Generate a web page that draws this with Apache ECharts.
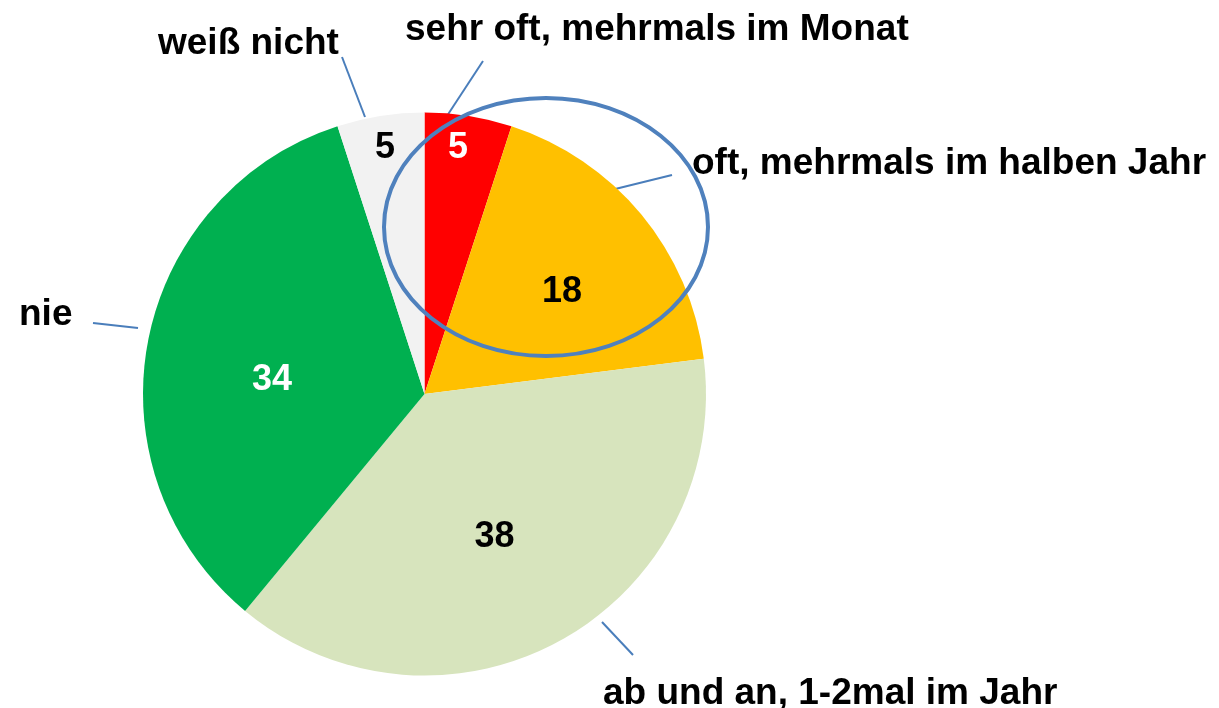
<!DOCTYPE html>
<html><head><meta charset="utf-8">
<script src="https://cdn.jsdelivr.net/npm/echarts@6/dist/echarts.min.js"></script>
<style>html,body{margin:0;padding:0;background:#fff}#c{width:1219px;height:708px}</style>
</head><body><div id="c"></div>
<script>
// ---- data ----
const categories = ['sehr oft, mehrmals im Monat', 'oft, mehrmals im halben Jahr', 'ab und an, 1-2mal im Jahr', 'nie', 'weiß nicht'];
const values = [5, 18, 38, 34, 5];

// ---- styles / layout ----
const colors = ['#ff0000', '#ffc000', '#d7e4bd', '#00b050', '#f2f2f2'];
const valueLabelColors = ['#ffffff', '#000000', '#000000', '#ffffff', '#000000'];
const nameLabelPos = [[405, 29.5], [692, 163.5], [603, 694], [19, 314.5], [158, 43.5]];
const leaderLines = [[[483, 61], [443, 122]], [[672, 175], [603, 192]], [[633, 655], [602, 622]], [[93, 323], [138, 328]], [[342, 57], [365, 117]]];
const valueLabelPos = [[458, 148], [562, 292], [494.5, 537], [272, 380.5], [385, 148]];

const font = '"Liberation Sans", Arial, sans-serif';
const center = [424.5, 394];
const radius = 281.5;

const chart = echarts.init(document.getElementById('c'), null, {renderer: 'canvas'});
const sliceData = categories.map((n, i) => ({name: n, value: values[i], itemStyle: {color: colors[i]}}));
const valueData = categories.map((n, i) => ({name: n, value: values[i], label: {color: valueLabelColors[i]}}));

chart.setOption({
  animation: false,
  series: [
    {
      type: 'pie', center: center, radius: radius, startAngle: 90, clockwise: true,
      avoidLabelOverlap: false, silent: true,
      itemStyle: {borderWidth: 0},
      data: sliceData,
      label: {show: true, position: 'outside', formatter: '{b}', fontFamily: font, fontWeight: 'bold',
              fontSize: 37, color: '#000000', width: 700, overflow: 'none'},
      labelLine: {show: true, length: 10, length2: 10, smooth: false, lineStyle: {color: '#4a7ebb', width: 2}},
      labelLayout: function (p) {
        const i = p.dataIndex;
        return {x: nameLabelPos[i][0], y: nameLabelPos[i][1], align: 'left', verticalAlign: 'middle',
                labelLinePoints: leaderLines[i]};
      }
    },
    {
      type: 'pie', center: center, radius: radius, startAngle: 90, clockwise: true,
      avoidLabelOverlap: false, silent: true,
      itemStyle: {color: 'rgba(0,0,0,0)', borderWidth: 0},
      data: valueData,
      label: {show: true, position: 'inside', formatter: '{c}', fontFamily: font, fontWeight: 'bold', fontSize: 36},
      labelLine: {show: false},
      labelLayout: function (p) {
        const i = p.dataIndex;
        return {x: valueLabelPos[i][0], y: valueLabelPos[i][1], align: 'center', verticalAlign: 'middle'};
      }
    }
  ],
  graphic: [
    {type: 'ellipse', z: 100, shape: {cx: 546, cy: 227, rx: 162, ry: 129},
     style: {fill: null, stroke: '#4f81bd', lineWidth: 4}}
  ]
});
</script>
</body></html>
